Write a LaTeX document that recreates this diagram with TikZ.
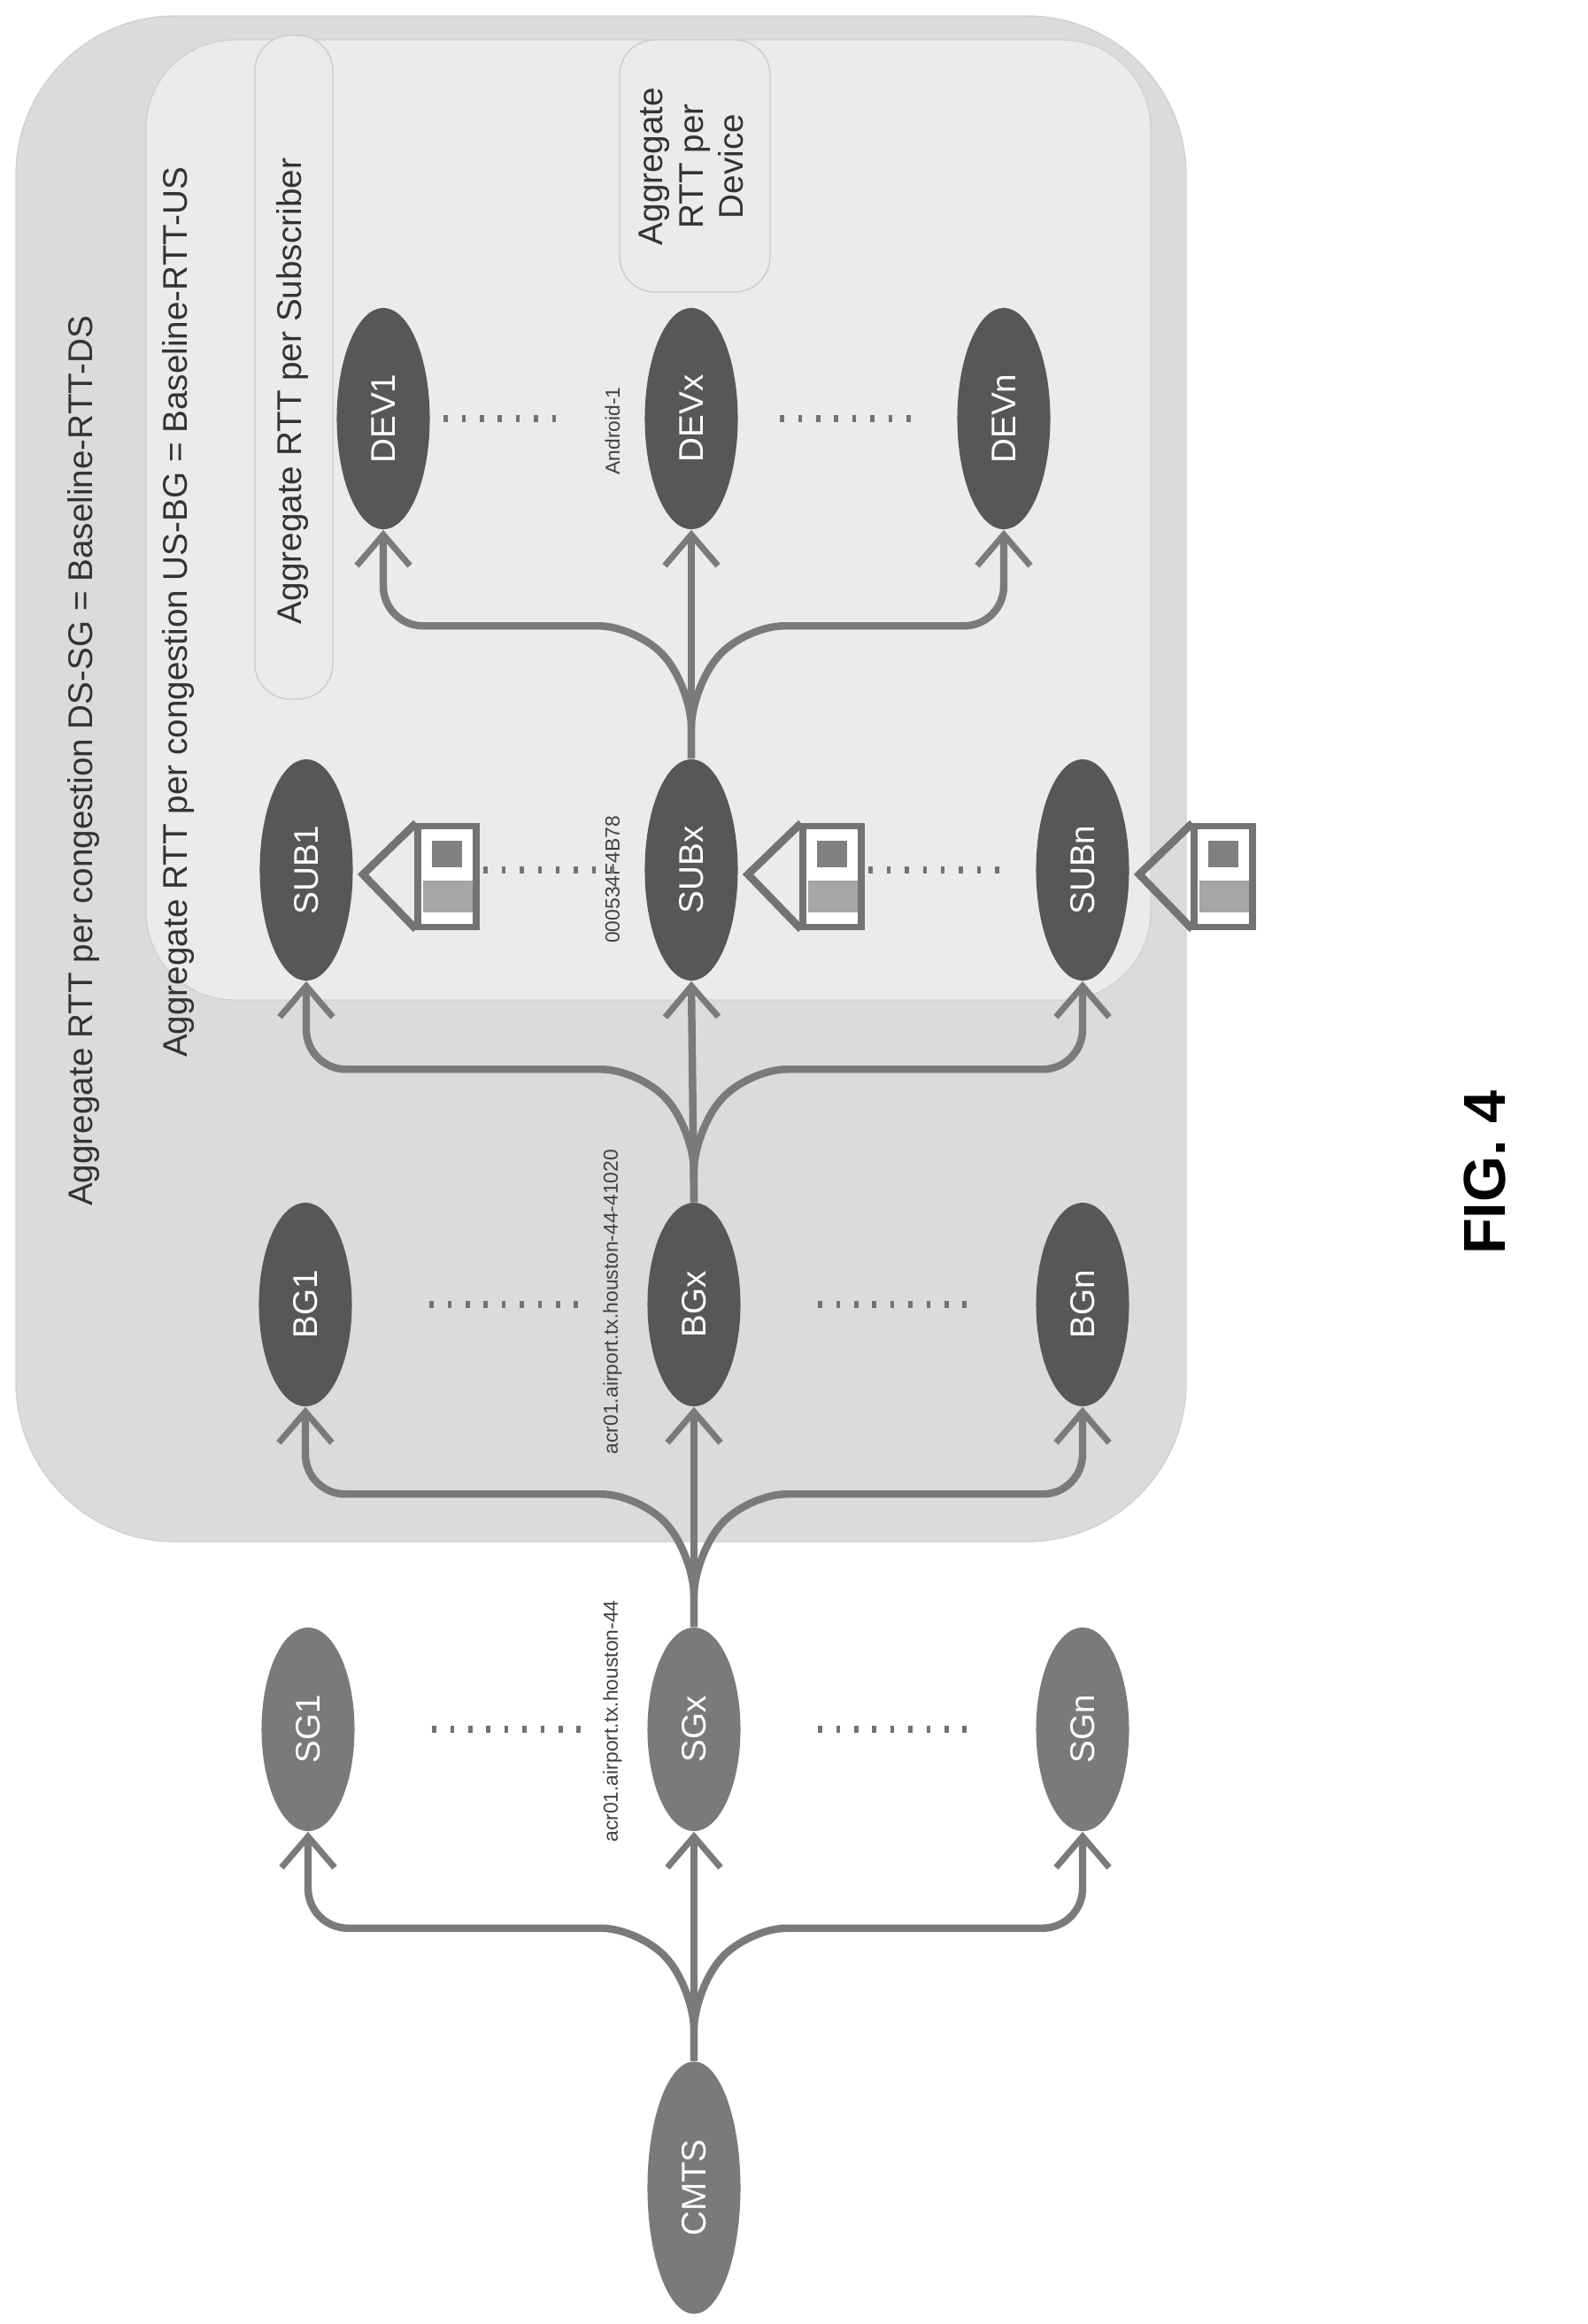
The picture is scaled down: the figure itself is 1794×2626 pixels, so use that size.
\documentclass[tikz,border=0pt]{standalone}
\usepackage{fontspec}
\setmainfont{Liberation Sans}
\usetikzlibrary{shapes.geometric, arrows.meta}
\tikzset{
  outer/.style = {fill=black!14, draw=black!18, rounded corners=1.8cm},
  panel/.style = {fill=black!8, draw=black!18, rounded corners=1cm},
  tag/.style = {fill=black!8, draw=black!20, rounded corners=0.4cm},
  light/.style = {ellipse, rotate=90, fill=black!52, text=white, minimum width=2.3cm,
      minimum height=1.05cm, inner sep=0pt, font=\fontsize{11}{13}\selectfont},
  dark/.style = {light, fill=black!66},
  edge/.style = {draw=black!52, line width=2.4pt, rounded corners=0.45cm,
      -{Straight Barb[length=3.5mm,width=6mm,line width=2pt]}},
  dots/.style = {draw=black!55, line width=2.5pt, dash pattern=on 1.3pt off 4.5pt},
  note/.style = {rotate=90, text=black!80, font=\fontsize{11}{13}\selectfont},
  small/.style = {rotate=90, text=black!75, font=\fontsize{6.5}{8}\selectfont}
}
\newcommand\drawhouse[2][white]{%
  \begin{scope}[shift={(#2.center)}]
    \fill[#1] (126,-50) rectangle (192,64);
    \draw[black!55, line width=2pt] (126,-50) rectangle (192,64);
    \draw[black!55, line width=2.5pt] (124,-53) -- (64,5) -- (124,67);
    \fill[black!50] (142,-33) rectangle (176,-3);
    \fill[black!35] (132,12) rectangle (188,48);
  \end{scope}}
\begin{document}
\begin{tikzpicture}[x=0.01cm, y=-0.01cm]
  \useasboundingbox (0,0) rectangle (1794,2626);
  % backgrounds
  \draw[outer] (18,18) rectangle (1340,1742);
  \draw[panel] (165,45) rectangle (1300,1130);
  \draw[tag] (288,40) rectangle (376,790);
  \draw[tag] (700,45) rectangle (870,330);
  % texts
  \node[note] (ds) at (94,860) {Aggregate RTT per congestion DS-SG = Baseline-RTT-DS};
  \node[note] (us) at (201,692) {Aggregate RTT per congestion US-BG = Baseline-RTT-US};
  \node[note] (persub) at (330,442) {Aggregate RTT per Subscriber};
  \node[note, align=center] (perdev) at (781,188) {Aggregate\\RTT per\\Device};
  % nodes
  \node[light, minimum width=2.85cm] (cmts) at (784,2472) {CMTS};
  \node[light] (sg1) at (348,1954) {SG1};
  \node[light] (sgx) at (784,1954) {SGx};
  \node[light] (sgn) at (1223,1954) {SGn};
  \node[dark] (bg1) at (345,1474) {BG1};
  \node[dark] (bgx) at (784,1474) {BGx};
  \node[dark] (bgn) at (1223,1474) {BGn};
  \node[dark, minimum width=2.5cm] (sub1) at (346,983) {SUB1};
  \node[dark, minimum width=2.5cm] (subx) at (781,983) {SUBx};
  \node[dark, minimum width=2.5cm] (subn) at (1223,983) {SUBn};
  \node[dark, minimum width=2.5cm] (dev1) at (433,473) {DEV1};
  \node[dark, minimum width=2.5cm] (devx) at (781,473) {DEVx};
  \node[dark, minimum width=2.5cm] (devn) at (1134,473) {DEVn};
  \node[small] (sgname) at (692,1945) {acr01.airport.tx.houston-44};
  \node[small] (bgname) at (692,1471) {acr01.airport.tx.houston-44-41020};
  \node[small] (subname) at (692,994) {000534F4B78};
  \node[small] (devname) at (692,487) {Android-1};
  \node[rotate=90, font=\bfseries\fontsize{19}{22}\selectfont] (fig) at (1677,1325) {FIG. 4};
  % houses
  \drawhouse{sub1}
  \drawhouse{subx}
  \drawhouse[white]{subn}
  % edges
  \foreach \from/\a/\b/\c in {cmts/sg1/sgx/sgn, sgx/bg1/bgx/bgn, bgx/sub1/subx/subn, subx/dev1/devx/devn} {
    \draw[edge] (\from.east) -- (\b.west);
    \draw[edge] (\from.east) -- ++(0,-80) -- ++(-60,-70) -| (\a.west);
    \draw[edge] (\from.east) -- ++(0,-80) -- ++(60,-70) -| (\c.west);
  }
  % dotted links
  \draw[dots, shorten <=0.87cm, shorten >=0.67cm] (sg1) -- (sgx);
  \draw[dots, shorten <=0.87cm, shorten >=0.67cm] (sgx) -- (sgn);
  \draw[dots, shorten <=0.87cm, shorten >=0.67cm] (bg1) -- (bgx);
  \draw[dots, shorten <=0.87cm, shorten >=0.67cm] (bgx) -- (bgn);
  \draw[dots, shorten <=1.47cm, shorten >=0.34cm] (sub1) -- (subx);
  \draw[dots, shorten <=1.47cm, shorten >=0.34cm] (subx) -- (subn);
  \draw[dots, shorten <=0.15cm, shorten >=0.95cm] (dev1) -- (devx);
  \draw[dots, shorten <=0.47cm, shorten >=0.37cm] (devx) -- (devn);
\end{tikzpicture}
\end{document}
